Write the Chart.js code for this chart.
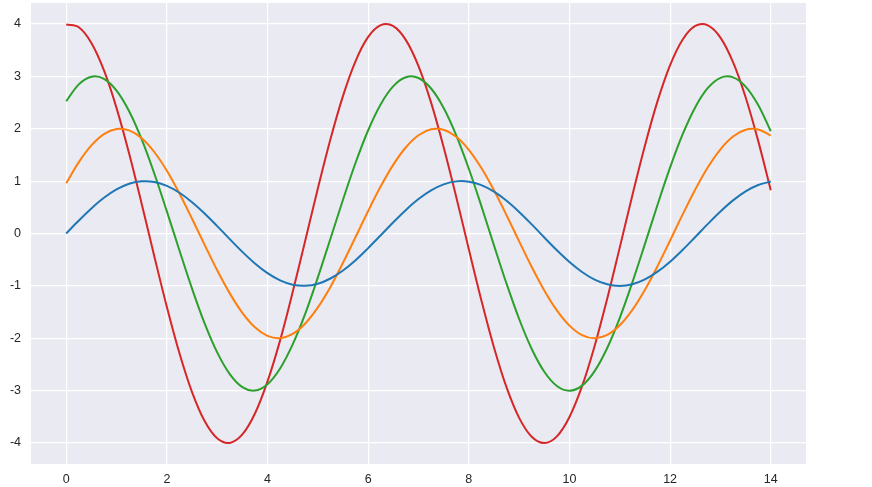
<!DOCTYPE html>
<html>
<head>
<meta charset="utf-8">
<script src="https://cdn.jsdelivr.net/npm/chart.js@4.4.1/dist/chart.umd.min.js"></script>
<style>
  html, body { margin: 0; padding: 0; background: #ffffff; }
  #wrap { width: 872px; height: 487px; position: relative; }
</style>
</head>
<body>
<div id="wrap"><canvas id="c" width="872" height="487"></canvas></div>
<script>
// x positions (step 0.25 from 0 to 14)
const xValues = [0,0.25,0.5,0.75,1,1.25,1.5,1.75,2,2.25,2.5,2.75,3,3.25,3.5,3.75,4,4.25,4.5,4.75,5,5.25,5.5,5.75,6,6.25,6.5,6.75,7,7.25,7.5,7.75,8,8.25,8.5,8.75,9,9.25,9.5,9.75,10,10.25,10.5,10.75,11,11.25,11.5,11.75,12,12.25,12.5,12.75,13,13.25,13.5,13.75,14];

const seriesBlue = [0,0.247,0.479,0.682,0.841,0.949,0.997,0.984,0.909,0.778,0.598,0.382,0.141,-0.108,-0.351,-0.572,-0.757,-0.895,-0.978,-0.999,-0.959,-0.859,-0.706,-0.510,-0.279,-0.033,0.215,0.450,0.657,0.823,0.938,0.995,0.989,0.923,0.798,0.625,0.412,0.174,-0.075,-0.320,-0.544,-0.735,-0.880,-0.970,-1.000,-0.968,-0.876,-0.729,-0.537,-0.311,-0.066,0.183,0.420,0.632,0.804,0.926,0.991];

const seriesOrange = [0.959,1.363,1.683,1.898,1.995,1.968,1.819,1.556,1.197,0.763,0.282,-0.216,-0.702,-1.143,-1.514,-1.790,-1.955,-1.999,-1.918,-1.718,-1.411,-1.020,-0.559,-0.066,0.430,0.900,1.314,1.646,1.876,1.989,1.979,1.846,1.597,1.249,0.824,0.349,-0.150,-0.639,-1.088,-1.469,-1.759,-1.940,-2.000,-1.936,-1.751,-1.458,-1.073,-0.622,-0.133,0.365,0.840,1.264,1.608,1.852,1.981,1.987,1.870];

const seriesGreen = [2.524,2.847,2.993,2.952,2.728,2.334,1.796,1.145,0.423,-0.325,-1.052,-1.715,-2.270,-2.685,-2.933,-2.998,-2.877,-2.577,-2.117,-1.530,-0.838,-0.100,0.645,1.350,1.971,2.469,2.814,2.984,2.968,2.768,2.396,1.874,1.236,0.523,-0.226,-0.959,-1.632,-2.204,-2.639,-2.910,-3.000,-2.904,-2.627,-2.186,-1.610,-0.933,-0.199,0.548,1.261,1.895,2.411,2.778,2.972,2.981,2.805,2.453,1.951];

const seriesRed = [3.990,3.936,3.637,3.112,2.394,1.527,0.564,-0.433,-1.403,-2.286,-3.027,-3.580,-3.910,-3.997,-3.836,-3.436,-2.822,-2.040,-1.118,-0.133,0.860,1.800,2.628,3.292,3.752,3.978,3.958,3.691,3.194,2.499,1.648,0.697,-0.301,-1.278,-2.176,-2.938,-3.519,-3.880,-4.000,-3.872,-3.502,-2.915,-2.146,-1.244,-0.265,0.730,1.681,2.527,3.215,3.704,3.962,3.974,3.740,3.271,2.601,1.768,0.826];

const xTicks = [0,2,4,6,8,10,12,14];
const yTicks = [-4,-3,-2,-1,0,1,2,3,4];

const seriesList = [
  { values: seriesBlue,   color: '#1f77b4' },
  { values: seriesOrange, color: '#ff7f0e' },
  { values: seriesGreen,  color: '#2ca02c' },
  { values: seriesRed,    color: '#d62728' }
];

const bgPlugin = {
  id: 'plotBg',
  beforeDraw(chart) {
    const { ctx, chartArea } = chart;
    ctx.save();
    ctx.fillStyle = '#ffffff';
    ctx.fillRect(0, 0, chart.width, chart.height);
    ctx.fillStyle = '#eaeaf2';
    ctx.fillRect(chartArea.left, chartArea.top, chartArea.right - chartArea.left, chartArea.bottom - chartArea.top);
    ctx.restore();
  }
};

const tickFont = { family: '"Liberation Sans", Arial, sans-serif', size: 12.5 };

function zeroPad(scale) {
  scale.paddingTop = 0;
  scale.paddingBottom = 0;
  scale.paddingLeft = 0;
  scale.paddingRight = 0;
}

new Chart(document.getElementById('c'), {
  type: 'line',
  data: {
    datasets: seriesList.map(s => ({
      data: xValues.map((x, i) => ({ x: x, y: s.values[i] })),
      borderColor: s.color,
      backgroundColor: s.color,
      borderWidth: 2,
      pointRadius: 0,
      tension: 0.35,
      fill: false
    }))
  },
  options: {
    responsive: false,
    animation: false,
    layout: { padding: { left: 0, top: 3, right: 66, bottom: 0 } },
    plugins: { legend: { display: false }, tooltip: { enabled: false } },
    scales: {
      x: {
        type: 'linear',
        min: -0.7,
        max: 14.7,
        afterBuildTicks(scale) { scale.ticks = xTicks.map(v => ({ value: v })); },
        afterFit(scale) { scale.height = 23; zeroPad(scale); },
        grid: { color: '#ffffff', lineWidth: 1.2, drawTicks: false },
        border: { display: false },
        ticks: { color: '#262626', font: tickFont, padding: 8, maxRotation: 0,
                 callback: v => String(v) }
      },
      y: {
        type: 'linear',
        min: -4.4,
        max: 4.4,
        afterBuildTicks(scale) { scale.ticks = yTicks.map(v => ({ value: v })); },
        afterFit(scale) { scale.width = 31; zeroPad(scale); },
        grid: { color: '#ffffff', lineWidth: 1.2, drawTicks: false },
        border: { display: false },
        ticks: { color: '#262626', font: tickFont, padding: 10,
                 callback: v => String(v) }
      }
    }
  },
  plugins: [bgPlugin]
});
</script>
</body>
</html>
